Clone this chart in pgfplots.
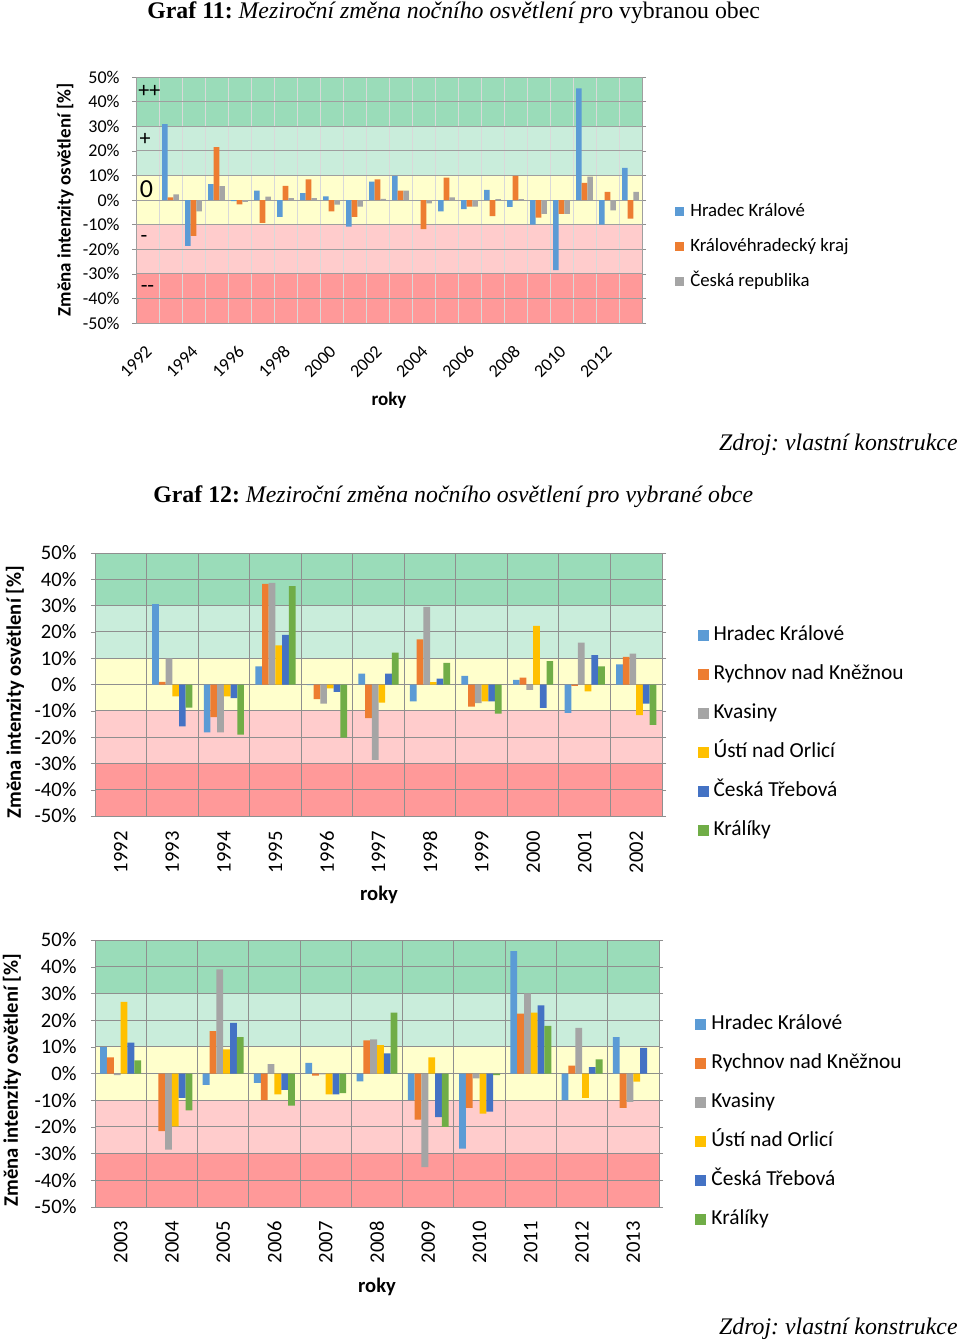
\documentclass[border=0pt]{standalone}
\usepackage{fontspec}
\setmainfont{Carlito}
\newfontfamily\tnr{Liberation Serif}
\usepackage{pgfplots}
\pgfplotsset{compat=1.18}
\usepackage{pgfplotstable}
\frenchspacing

% Excel palette
\definecolor{cHK}{HTML}{5B9BD5}
\definecolor{cRY}{HTML}{ED7D31}
\definecolor{cKV}{HTML}{A5A5A5}
\definecolor{cUS}{HTML}{FFC000}
\definecolor{cCT}{HTML}{4472C4}
\definecolor{cKR}{HTML}{70AD47}
% background bands
\definecolor{bA}{HTML}{9ADCB9}
\definecolor{bB}{HTML}{C9EDDB}
\definecolor{bC}{HTML}{FFFFCC}
\definecolor{bD}{HTML}{FFCCCC}
\definecolor{bE}{HTML}{FF9999}

% Graf 11: 1992..2013 -> 0..21
\pgfplotstableread{
x hk kraj cr
1 30.8 1.1 2.3
2 -18.6 -14.6 -4.6
3 6.5 21.5 5.6
4 -0.5 -1.8 -0.8
5 3.8 -9.3 1.4
6 -6.9 5.7 0.8
7 2.8 8.4 0.8
8 1.5 -4.6 -1.9
9 -10.8 -6.9 -2.7
10 7.5 8.4 0.5
11 9.8 3.8 3.8
12 0 -11.8 -1.4
13 -4.6 9.1 1.1
14 -3.7 -2.7 -2.7
15 4.1 -6.5 0.4
16 -2.8 9.8 0.4
17 -10.0 -7.2 -5.6
18 -28.5 -5.6 -5.6
19 45.4 7.0 9.5
20 -10.0 3.3 -4.2
21 13.1 -7.6 3.3
}\grafA

% Graf 12 (top): 1992..2002 -> 0..10
\pgfplotstableread{
x hk ry kv us ct kr
1 30.6 1.0 9.9 -4.5 -15.9 -8.8
2 -18.2 -12.4 -18.2 -4.5 -5.2 -19.1
3 6.9 38.3 38.6 14.9 18.9 37.4
4 -0.2 -5.6 -7.3 -1.5 -2.8 -20.2
5 4.1 -12.8 -28.7 -6.9 4.1 12.1
6 -6.4 17.2 29.5 0.9 2.2 8.2
7 3.3 -8.4 -7.1 -6.4 -6.4 -11.1
8 1.8 2.6 -2.0 22.3 -8.9 8.9
9 -10.8 -0.5 15.9 -2.6 11.2 6.9
10 7.7 10.5 11.7 -11.6 -7.3 -15.3
}\grafB

% Graf 12 (bottom): 2003..2013 -> 0..10
\pgfplotstableread{
x hk ry kv us ct kr
0 9.9 6.0 -0.6 26.8 11.6 4.9
1 0 -21.6 -28.5 -19.8 -9.1 -13.8
2 -4.3 15.9 39.0 9.0 19.0 13.6
3 -3.5 -10.0 3.5 -7.8 -6.1 -12.0
4 4.0 -0.8 -0.3 -7.8 -7.8 -7.3
5 -2.9 12.4 12.8 10.6 7.5 22.8
6 -10.0 -17.3 -35.1 6.0 -16.3 -20.0
7 -28.1 -12.9 -1.8 -15.0 -14.3 -0.6
8 45.8 22.4 30.0 22.8 25.5 17.8
9 -10.0 3.0 17.1 -9.1 2.4 5.3
10 13.6 -12.9 -10.6 -3.0 9.6 0
}\grafC

\newcommand\bands[1]{%
  \begin{pgfonlayer}{axis background}
    \fill[bA] (axis cs:-0.5,30) rectangle (axis cs:#1,50);
    \fill[bB] (axis cs:-0.5,10) rectangle (axis cs:#1,30);
    \fill[bC] (axis cs:-0.5,-10) rectangle (axis cs:#1,10);
    \fill[bD] (axis cs:-0.5,-30) rectangle (axis cs:#1,-10);
    \fill[bE] (axis cs:-0.5,-50) rectangle (axis cs:#1,-30);
  \end{pgfonlayer}}

\pgfplotsset{
  zmena/.style={
    scale only axis, set layers=standard,
    ybar=0pt, ymin=-50, ymax=50, xmin=-0.5,
    ytick={-50,-40,...,50},
    yticklabels={-50\%,-40\%,-30\%,-20\%,-10\%,0\%,10\%,20\%,30\%,40\%,50\%},
    ymajorgrids, xminorgrids, xmajorgrids=false,
    grid style={gray!88, line width=0.5pt},
    minor grid style={gray!88, line width=0.5pt},
    axis line style={gray!88},
    tick align=outside, major tick length=2pt, minor tick length=0pt,
    ytick style={gray!88}, xtick style={draw=none},
    yticklabel style={inner sep=0pt},
    every axis plot/.append style={draw=none},
    legend cell align=left,
    legend image code/.code={\fill[##1] (0pt,-2.25pt) rectangle (4.5pt,2.25pt); \path (7.5pt,0pt);},
  }
}

\begin{document}
\begin{tikzpicture}

% ---------------- Graf 11
\node[anchor=base west, inner sep=0pt, font=\tnr\fontsize{11.9}{13}\selectfont] at (73.5pt,-9pt)
  {\textbf{Graf 11:} \textit{Meziroční změna nočního osvětlení pr}o vybranou obec};

\begin{axis}[zmena,
  at={(68pt,-161.5pt)}, anchor=south west,
  width=253pt, height=123pt, xmax=21.5,
  bar width=0.245,
  grid style={gray!75, line width=0.5pt},
  minor grid style={gray!30, line width=0.5pt},
  axis line style={gray!75},
  xtick={0,2,...,20},
  xticklabels={1992,1994,1996,1998,2000,2002,2004,2006,2008,2010,2012},
  minor xtick={-0.5,0.5,...,21.5},
  tick label style={font=\fontsize{9}{10}\selectfont},
  yticklabel shift=6pt,
  xticklabel style={rotate=45, anchor=north east, inner sep=0pt, xshift=-2pt},
  xticklabel shift=7pt,
  xlabel={roky}, ylabel={Změna intenzity osvětlení [\%]},
  label style={font=\bfseries\fontsize{9.5}{11}\selectfont},
  xlabel style={at={(axis description cs:0.5,-0.313)}, anchor=center},
  ylabel style={at={(axis description cs:-0.140,0.5)}, anchor=center},
  legend style={at={(1.065,0.310)}, anchor=west, draw=none, fill=none,
    inner sep=0pt, row sep=9pt, font=\fontsize{9.4}{10}\selectfont,
    nodes={inner sep=0pt, text height=6.5pt, text depth=2pt}},
]
\bands{21.5}
\addplot[fill=cHK] table[x=x,y=hk] {\grafA};
\addplot[fill=cRY] table[x=x,y=kraj] {\grafA};
\addplot[fill=cKV] table[x=x,y=cr] {\grafA};
\legend{Hradec Králové, Královéhradecký kraj, Česká republika}
\node[font=\fontsize{11}{12}\selectfont] at (axis cs:0.08,44.3) {++};
\node[font=\fontsize{11}{12}\selectfont] at (axis cs:-0.1,24.5) {+};
\node[font=\fontsize{13}{14}\selectfont] at (axis cs:-0.04,4.5) {0};
\node[font=\fontsize{11}{12}\selectfont] at (axis cs:-0.15,-16) {-};
\node[font=\fontsize{11}{12}\selectfont] at (axis cs:0,-36) {-{}-};
\end{axis}

\node[anchor=base east, inner sep=0pt, font=\tnr\itshape\fontsize{11.9}{13}\selectfont] at (479pt,-225pt)
  {Zdroj: vlastní konstrukce};

% ---------------- Graf 12
\node[anchor=base west, inner sep=0pt, font=\tnr\fontsize{11.9}{13}\selectfont] at (76.5pt,-251pt)
  {\textbf{Graf 12:} \textit{Meziroční změna nočního osvětlení pro vybrané obce}};

\begin{axis}[zmena,
  at={(47.5pt,-408pt)}, anchor=south west,
  width=283.5pt, height=131.5pt, xmax=10.5,
  bar width=0.13,
  xtick={0,...,10},
  xticklabels={1992,1993,1994,1995,1996,1997,1998,1999,2000,2001,2002},
  minor xtick={-0.5,0.5,...,10.5},
  tick label style={font=\fontsize{10.3}{11}\selectfont},
  yticklabel shift=7pt,
  xticklabel style={rotate=90, anchor=east, inner sep=0pt},
  xticklabel shift=5.5pt,
  xlabel={roky}, ylabel={Změna intenzity osvětlení [\%]},
  label style={font=\bfseries\fontsize{10.3}{12}\selectfont},
  xlabel style={at={(axis description cs:0.501,-0.3)}, anchor=center},
  ylabel style={at={(axis description cs:-0.141,0.471)}, anchor=center},
  legend image code/.code={\fill[#1] (0pt,-2.75pt) rectangle (5.5pt,2.75pt); \path (8pt,0pt);},
  legend style={at={(1.062,0.317)}, anchor=west, draw=none, fill=none,
    inner sep=0pt, row sep=9.5pt, font=\fontsize{10.7}{12}\selectfont,
    nodes={inner sep=0pt, text height=7.5pt, text depth=2.5pt}},
]
\bands{10.5}
\addplot[fill=cHK] table[x=x,y=hk] {\grafB};
\addplot[fill=cRY] table[x=x,y=ry] {\grafB};
\addplot[fill=cKV] table[x=x,y=kv] {\grafB};
\addplot[fill=cUS] table[x=x,y=us] {\grafB};
\addplot[fill=cCT] table[x=x,y=ct] {\grafB};
\addplot[fill=cKR] table[x=x,y=kr] {\grafB};
\legend{Hradec Králové, Rychnov nad Kněžnou, Kvasiny, Ústí nad Orlicí, Česká Třebová, Králíky}
\end{axis}

\begin{axis}[zmena,
  at={(47.5pt,-603.5pt)}, anchor=south west,
  width=282pt, height=133.5pt, xmax=10.5,
  bar width=0.133,
  xtick={0,...,10},
  xticklabels={2003,2004,2005,2006,2007,2008,2009,2010,2011,2012,2013},
  minor xtick={-0.5,0.5,...,10.5},
  tick label style={font=\fontsize{10.3}{11}\selectfont},
  yticklabel shift=7pt,
  xticklabel style={rotate=90, anchor=east, inner sep=0pt},
  xticklabel shift=5pt,
  xlabel={roky}, ylabel={Změna intenzity osvětlení [\%]},
  label style={font=\bfseries\fontsize{10.3}{12}\selectfont},
  xlabel style={at={(axis description cs:0.5,-0.3)}, anchor=center},
  ylabel style={at={(axis description cs:-0.147,0.476)}, anchor=center},
  legend image code/.code={\fill[#1] (0pt,-2.75pt) rectangle (5.5pt,2.75pt); \path (8pt,0pt);},
  legend style={at={(1.064,0.320)}, anchor=west, draw=none, fill=none,
    inner sep=0pt, row sep=9.5pt, font=\fontsize{10.7}{12}\selectfont,
    nodes={inner sep=0pt, text height=7.5pt, text depth=2.5pt}},
]
\bands{10.5}
\addplot[fill=cHK] table[x=x,y=hk] {\grafC};
\addplot[fill=cRY] table[x=x,y=ry] {\grafC};
\addplot[fill=cKV] table[x=x,y=kv] {\grafC};
\addplot[fill=cUS] table[x=x,y=us] {\grafC};
\addplot[fill=cCT] table[x=x,y=ct] {\grafC};
\addplot[fill=cKR] table[x=x,y=kr] {\grafC};
\legend{Hradec Králové, Rychnov nad Kněžnou, Kvasiny, Ústí nad Orlicí, Česká Třebová, Králíky}
\end{axis}

\node[anchor=base east, inner sep=0pt, font=\tnr\itshape\fontsize{11.9}{13}\selectfont] at (479pt,-667pt)
  {Zdroj: vlastní konstrukce};

\pgfresetboundingbox
\useasboundingbox (0,0) rectangle (480pt,-670.5pt);
\end{tikzpicture}
\end{document}
